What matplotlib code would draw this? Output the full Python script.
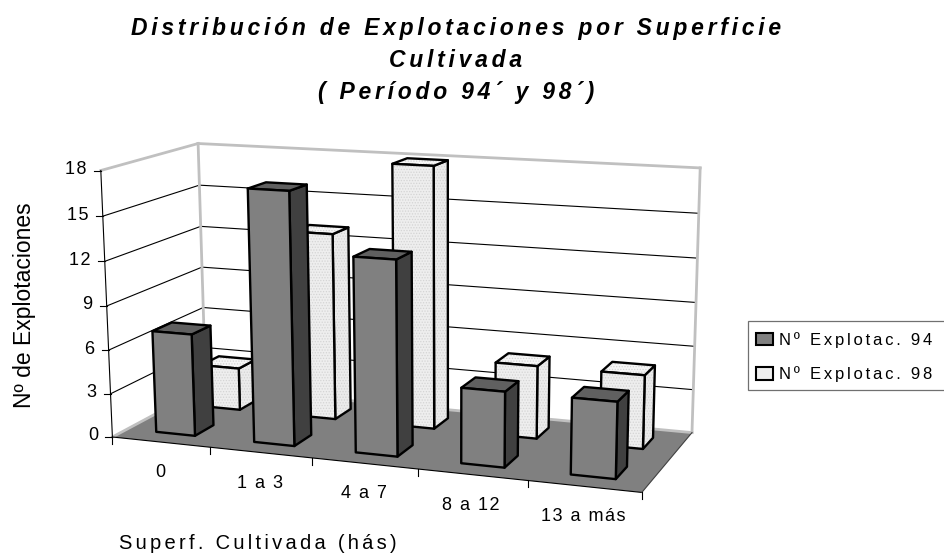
# Distribucion de explotaciones - 3D columns drawn on a 2D axes

import numpy as np
import matplotlib
matplotlib.use('Agg')
import matplotlib.pyplot as plt
from matplotlib.patches import Patch, Polygon, Rectangle

plt.rcParams['font.family'] = ['Liberation Sans', 'DejaVu Sans']
plt.rcParams['hatch.linewidth'] = 0.6

categories = ['0', '1 a 3', '4 a 7', '8 a 12', '13 a más']
series_names = ['Nº Explotac. 94', 'Nº Explotac. 98']
values_94 = [7, 17, 13, 5, 5]
values_98 = [3, 13, 18, 5, 5]
value_ticks = [0, 3, 6, 9, 12, 15, 18]


def spaced(s, gap=2):
    # the original text has wide letter spacing
    return ('\u200a' * gap).join(s)


# camera: corners of the plot box (category, series, value) -> pixel
corners = [((0, 0, 0), (113, 436)), ((0, 0, 18), (100, 171)),
           ((0, 2, 0), (205, 388)), ((0, 2, 18), (199, 143)),
           ((5, 2, 0), (692, 432)), ((5, 2, 18), (700, 168)),
           ((5, 0, 0), (642, 493))]
rows = []
for (x, d, z), (u, v) in corners:
    rows.append([x, d, z, 1, 0, 0, 0, 0, -u*x, -u*d, -u*z, -u])
    rows.append([0, 0, 0, 0, x, d, z, 1, -v*x, -v*d, -v*z, -v])
cam = np.linalg.svd(np.array(rows, float))[2][-1].reshape(3, 4)


def proj(x, d, z):
    p = cam @ np.array([x, d, z, 1.0])
    return p[0] / p[2], p[1] / p[2]


fig = plt.figure(figsize=(9.45, 5.54), dpi=100)
ax = fig.add_axes([0, 0, 1, 1])
ax.set_xlim(0, 945)
ax.set_ylim(554, 0)
ax.axis('off')

n = len(categories)

# floor
ax.add_patch(Polygon([proj(0, 0, 0), proj(n, 0, 0), proj(n, 2, 0), proj(0, 2, 0)],
                     fc='#808080', ec='none', zorder=1))

# grid lines on the walls
for v in value_ticks[1:-1]:
    xs, ys = zip(proj(0, 0, v), proj(0, 2, v), proj(n, 2, v))
    ax.plot(xs, ys, color='black', lw=0.8, zorder=2)

# wall frame in light grey
top = value_ticks[-1]
for a, b in [((0, 0, top), (0, 2, top)), ((0, 2, top), (n, 2, top)),
             ((0, 2, 0), (0, 2, top)), ((n, 2, 0), (n, 2, top)),
             ((0, 0, 0), (0, 2, 0)), ((0, 2, 0), (n, 2, 0))]:
    xs, ys = zip(proj(*a), proj(*b))
    ax.plot(xs, ys, color='#c0c0c0', lw=2, zorder=2)

# value axis
xs, ys = zip(proj(0, 0, 0), proj(0, 0, top))
ax.plot(xs, ys, color='black', lw=0.8, zorder=3)
for v in value_ticks:
    u, w = proj(0, 0, v)
    ax.plot([u - 7, u], [w, w], color='black', lw=0.8, zorder=3)
    ax.text(u - 14, w - 1, spaced(str(v), 1), ha='right', va='center', fontsize=13)

# category axis
xs, ys = zip(proj(0, 0, 0), proj(n, 0, 0))
ax.plot(xs, ys, color='black', lw=0.8, zorder=3)
xs, ys = zip(proj(n, 0, 0), proj(n, 2, 0))
ax.plot(xs, ys, color='#404040', lw=0.8, zorder=3)
for i in range(n + 1):
    u, w = proj(i, 0, 0)
    ax.plot([u, u], [w, w + 7], color='black', lw=0.8, zorder=3)
for i, c in enumerate(categories):
    u, w = proj(i + 0.5, 0, 0)
    ax.text(u - 1, w + 35, spaced(c, 1), ha='center', va='baseline', fontsize=13)


def bar3d(i, s, val, front, top_c, side, textured, z):
    x0, x1 = i + 0.3, i + 0.7
    d0, d1 = s + 0.3, s + 0.7
    faces = [
        ([proj(x1, d0, 0), proj(x1, d1, 0), proj(x1, d1, val), proj(x1, d0, val)], side),
        ([proj(x0, d0, val), proj(x1, d0, val), proj(x1, d1, val), proj(x0, d1, val)], top_c),
        ([proj(x0, d0, 0), proj(x1, d0, 0), proj(x1, d0, val), proj(x0, d0, val)], front),
    ]
    for pts, col in faces:
        if textured:
            ax.add_patch(Polygon(pts, fc=col, ec='#d4d4d4', hatch='......', lw=0, zorder=z))
        else:
            ax.add_patch(Polygon(pts, fc=col, ec='none', zorder=z))
        ax.add_patch(Polygon(pts, fill=False, ec='black', lw=1.7, joinstyle='round', zorder=z))


# back row first, right to left
for i in range(n - 1, -1, -1):
    bar3d(i, 1, values_98[i], '#eeeeee', '#f6f6f6', '#ebebeb', True, 4)
for i in range(n - 1, -1, -1):
    bar3d(i, 0, values_94[i], '#808080', '#606060', '#404040', False, 5)

# titles
title_lines = ['Distribución de Explotaciones por Superficie', 'Cultivada', '( Período 94´ y 98´)']
for line, base in zip(title_lines, [35, 67, 99]):
    ax.text(456, base, spaced(line), ha='center', va='baseline',
            fontsize=16.5, fontweight='bold', fontstyle='italic')
ax.text(25, 305, 'Nº de Explotaciones', rotation=90, ha='center', va='center', fontsize=16.5)
ax.text(258, 549, spaced('Superf. Cultivada (hás)'), ha='center', va='baseline', fontsize=14.5)

# legend, the box runs off the right edge of the picture
ax.add_patch(Rectangle((748, 321), 210, 69, fc='white', ec='#707070', lw=0.9, zorder=6))
handles = [Patch(fc='#808080', ec='black', lw=1.5, label=spaced(series_names[0])),
           Patch(fc='#efefef', ec='black', lw=1.5, label=spaced(series_names[1]))]
leg = ax.legend(handles=handles, loc='upper left', bbox_to_anchor=(756, 332),
                bbox_transform=ax.transData, fontsize=12, frameon=False,
                borderaxespad=0, borderpad=0, handlelength=1.02, handleheight=0.8,
                handletextpad=0.36, labelspacing=1.1)
leg.set_zorder(7)

fig.savefig('out.png', dpi=100)
